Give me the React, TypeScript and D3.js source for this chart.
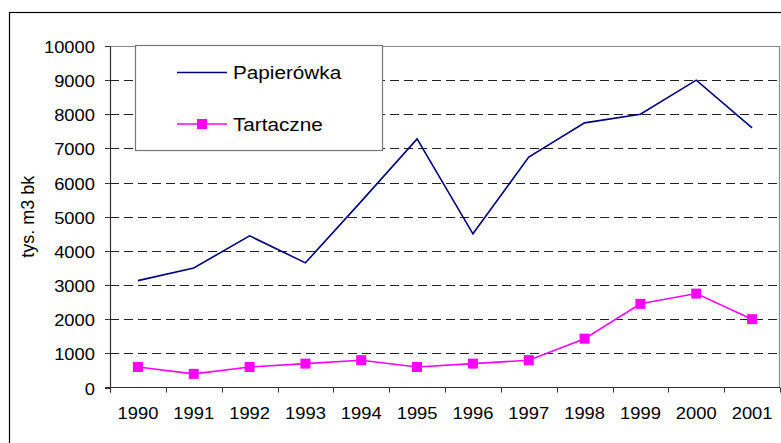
import React, { useEffect, useRef } from "react";
import * as d3 from "d3";

const years = ["1990", "1991", "1992", "1993", "1994", "1995", "1996", "1997", "1998", "1999", "2000", "2001"];
const papierowka = [3130, 3500, 4440, 3650, 5450, 7280, 4500, 6750, 7750, 8000, 9000, 7600];
const tartaczne = [600, 400, 600, 700, 800, 600, 700, 800, 1430, 2450, 2750, 2000];
const yTicks = [0, 1000, 2000, 3000, 4000, 5000, 6000, 7000, 8000, 9000, 10000];

const W = 781;
const H = 443;

const App = () => {
  const svgRef = useRef<SVGSVGElement | null>(null);

  useEffect(() => {
    if (!svgRef.current) return;
    const root = d3.select(svgRef.current);
    root.selectAll("*").remove();

    const left = 110, right = 780, top = 46, bottom = 387.5;
    const font = "Arial, 'Liberation Sans', sans-serif";

    // outer chart frame
    root.append("rect")
      .attr("x", 9.5).attr("y", 12.5)
      .attr("width", 800).attr("height", 500)
      .attr("fill", "white").attr("stroke", "black").attr("stroke-width", 1.2);

    const x = d3.scaleBand<string>().domain(years).range([left, right]).padding(0);
    const y = d3.scaleLinear().domain([0, 10000]).range([bottom, top]);
    const cx = (d: string) => (x(d) ?? 0) + x.bandwidth() / 2;

    // gridlines
    root.append("g")
      .selectAll("line")
      .data(yTicks.filter(t => t > 0 && t < 10000))
      .enter().append("line")
      .attr("x1", left).attr("x2", right)
      .attr("y1", d => Math.round(y(d)) + 0.5).attr("y2", d => Math.round(y(d)) + 0.5)
      .attr("stroke", "#222").attr("stroke-width", 1)
      .attr("stroke-dasharray", "9,5");

    // plot area border (top/right)
    root.append("path")
      .attr("d", `M${left},${top + 0.5}H${right - 0.5}V${bottom}`)
      .attr("fill", "none").attr("stroke", "#888").attr("stroke-width", 1.2);

    // y axis
    const yAxis = root.append("g");
    yAxis.append("line")
      .attr("x1", left + 0.5).attr("x2", left + 0.5)
      .attr("y1", top).attr("y2", bottom + 5)
      .attr("stroke", "#333").attr("stroke-width", 1.2);
    yTicks.forEach(t => {
      const ty = Math.round(y(t)) + 0.5;
      yAxis.append("line")
        .attr("x1", left - 5).attr("x2", left)
        .attr("y1", ty).attr("y2", ty)
        .attr("stroke", "#333");
      yAxis.append("text")
        .attr("transform", `translate(95,${ty + 6}) scale(1.08,1)`)
        .attr("text-anchor", "end")
        .style("font-family", font)
        .style("font-size", "17px")
        .attr("fill", "black")
        .text(String(t));
    });

    // x axis
    const xAxis = root.append("g");
    xAxis.append("line")
      .attr("x1", left - 5).attr("x2", right)
      .attr("y1", bottom).attr("y2", bottom)
      .attr("stroke", "#333").attr("stroke-width", 1.2);
    [...years.map(d => x(d) ?? 0), right].forEach(tx => {
      xAxis.append("line")
        .attr("x1", Math.round(tx) + 0.5).attr("x2", Math.round(tx) + 0.5)
        .attr("y1", bottom).attr("y2", bottom + 5)
        .attr("stroke", "#333");
    });
    years.forEach(d => {
      xAxis.append("text")
        .attr("transform", `translate(${cx(d)},419) scale(1.08,1)`)
        .attr("text-anchor", "middle")
        .style("font-family", font)
        .style("font-size", "17px")
        .attr("fill", "black")
        .text(d);
    });

    // y axis title
    root.append("text")
      .attr("transform", `translate(34,${(top + bottom) / 2}) rotate(-90)`)
      .attr("text-anchor", "middle")
      .style("font-family", font)
      .style("font-size", "18px")
      .attr("fill", "black")
      .text("tys. m3 bk");

    const line = d3.line<number>()
      .x((_, i) => cx(years[i]))
      .y(v => y(v));

    root.append("path")
      .datum(papierowka)
      .attr("fill", "none")
      .attr("stroke", "#000080")
      .attr("stroke-width", 1.6)
      .attr("d", line);

    root.append("path")
      .datum(tartaczne)
      .attr("fill", "none")
      .attr("stroke", "#FF00FF")
      .attr("stroke-width", 1.6)
      .attr("d", line);

    root.append("g")
      .selectAll("rect")
      .data(tartaczne)
      .enter().append("rect")
      .attr("x", (_, i) => cx(years[i]) - 5)
      .attr("y", v => y(v) - 5)
      .attr("width", 10).attr("height", 10)
      .attr("fill", "#FF00FF");

    // legend
    const lg = root.append("g");
    lg.append("rect")
      .attr("x", 135.5).attr("y", 45.5)
      .attr("width", 247).attr("height", 105)
      .attr("fill", "white").attr("stroke", "#777").attr("stroke-width", 1.2);
    lg.append("line")
      .attr("x1", 177).attr("x2", 227).attr("y1", 72.5).attr("y2", 72.5)
      .attr("stroke", "#000080").attr("stroke-width", 1.6);
    lg.append("text")
      .attr("transform", "translate(233,79) scale(1.12,1)")
      .style("font-family", font)
      .style("font-size", "18.5px")
      .attr("fill", "black")
      .text("Papierówka");
    lg.append("line")
      .attr("x1", 177).attr("x2", 227).attr("y1", 124).attr("y2", 124)
      .attr("stroke", "#FF00FF").attr("stroke-width", 1.6);
    lg.append("rect")
      .attr("x", 197).attr("y", 119).attr("width", 10).attr("height", 10)
      .attr("fill", "#FF00FF");
    lg.append("text")
      .attr("transform", "translate(233,131) scale(1.12,1)")
      .style("font-family", font)
      .style("font-size", "18.5px")
      .attr("fill", "black")
      .text("Tartaczne");
  }, []);

  return (
    <div style={{ position: "absolute", left: 0, top: 0, width: W, height: H, background: "white" }}>
      <svg ref={svgRef} width={W} height={H} style={{ display: "block" }}></svg>
    </div>
  );
};

export default App;
